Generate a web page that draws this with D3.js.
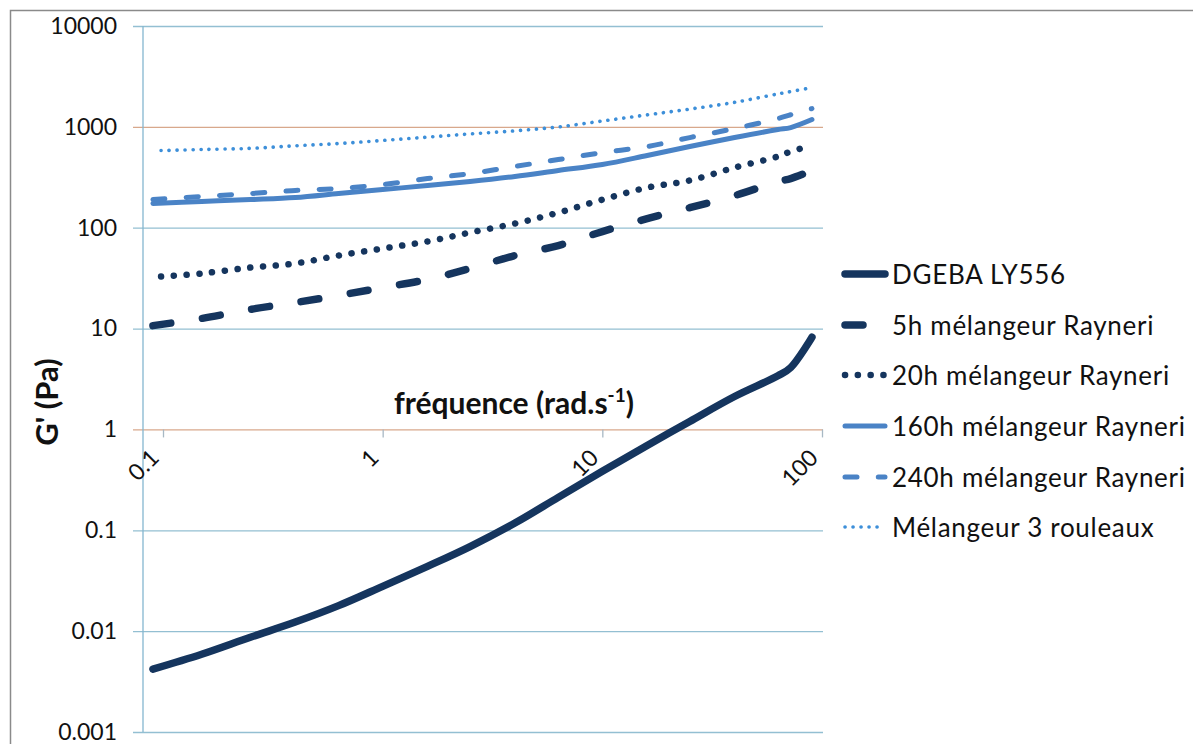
<!DOCTYPE html>
<html>
<head>
<meta charset="utf-8">
<script src="https://cdn.jsdelivr.net/npm/d3@7"></script>
<style>
  html, body { margin: 0; padding: 0; background: #fff; }
  svg { display: block; }
  text { font-family: Lato, "Open Sans", sans-serif; fill: #111; }
</style>
</head>
<body>
<svg id="chart" width="1193" height="744"></svg>
<script>
// ---- data ----
const freqA = [0.09, 0.15, 0.25, 0.4, 0.63, 1, 1.6, 2.5, 4, 6.3, 10, 16, 25, 40, 63, 72, 90];
const freqB = [0.098, 0.15, 0.25, 0.4, 0.63, 1, 1.6, 2.5, 4, 6.3, 10, 16, 25, 40, 63, 72, 90];

const dgeba      = [0.0042, 0.0059, 0.0087, 0.0123, 0.0179, 0.0278, 0.0439, 0.069, 0.118, 0.212, 0.384, 0.694, 1.2, 2.12, 3.4, 4.1, 8.2];
const rayneri5h  = [10.7, 12.6, 15.5, 18.1, 21.3, 25.5, 30.7, 39.4, 53, 66.6, 91.6, 123, 158, 208, 287, 307, 369];
const rayneri20h = [32.8, 35.2, 40.3, 44.2, 53, 62.2, 73, 89.6, 110, 141, 190, 250, 294, 395, 508, 569, 653];
const rayneri160h= [174, 182, 190, 199, 218, 239, 262, 287, 322, 369, 423, 520, 638, 783, 940, 984, 1181];
const rayneri240h= [190, 204, 218, 234, 245, 268, 307, 344, 405, 474, 556, 638, 783, 962, 1208, 1318, 1518];
const rouleaux3  = [582, 596, 612, 649, 683, 733, 791, 851, 913, 998, 1143, 1315, 1500, 1750, 2120, 2236, 2450];

const seriesNames = ["DGEBA LY556", "5h mélangeur Rayneri", "20h mélangeur Rayneri",
                     "160h mélangeur Rayneri", "240h mélangeur Rayneri", "Mélangeur 3 rouleaux"];

const xTicks = [0.1, 1, 10, 100];
const xTickLabels = ["0.1", "1", "10", "100"];
const yTicks = [0.001, 0.01, 0.1, 1, 10, 100, 1000, 10000];
const yTickLabels = ["0.001", "0.01", "0.1", "1", "10", "100", "1000", "10000"];

// ---- styles ----
const navy = "#15355e";
const mid = "#4a83c6";
const light = "#3d8fd9";
const styles = [
  { color: navy,  width: 7.5, dash: null },
  { color: navy,  width: 7.5, dash: "18,32" },
  { color: navy,  width: 6.5, dash: "0.1,12.7" },
  { color: mid,   width: 5,   dash: null },
  { color: mid,   width: 5,   dash: "12,21.3" },
  { color: light, width: 3.6, dash: "0.1,7.9" }
];
const seriesData = [
  { f: freqA, v: dgeba },
  { f: freqA, v: rayneri5h },
  { f: freqB, v: rayneri20h },
  { f: freqA, v: rayneri160h },
  { f: freqA, v: rayneri240h },
  { f: freqB, v: rouleaux3 }
];

const svg = d3.select("#chart");

// outer frame
svg.append("path").attr("d", "M10.5,744 L10.5,10.5 L1193,10.5")
  .attr("fill", "none").attr("stroke", "#8a8a8a").attr("stroke-width", 1.5);

const x = d3.scaleLog().domain([0.1, 100]).range([163, 822]);
const y = d3.scaleLog().domain([0.001, 10000]).range([732, 26]);
const plotLeft = 143, plotRight = 823;

// y axis with gridlines
const yAxis = d3.axisLeft(y).tickValues(yTicks)
  .tickFormat((d, i) => yTickLabels[i])
  .tickSize(-(plotRight - plotLeft + 10)).tickPadding(16);
const gy = svg.append("g").attr("transform", `translate(${plotLeft - 10},0)`).call(yAxis);
gy.select(".domain").remove();
gy.selectAll(".tick line")
  .attr("stroke", d => (d === 1000 || d === 1) ? "#d8a88c" : "#93bfd2")
  .attr("stroke-width", 1.3);
gy.selectAll(".tick text").attr("font-size", 23).attr("font-family", "Lato").attr("fill", "#111");

// vertical axis line
svg.append("line").attr("x1", plotLeft).attr("x2", plotLeft)
  .attr("y1", y(10000)).attr("y2", y(0.001))
  .attr("stroke", "#84b6cf").attr("stroke-width", 1.3);

// x axis at y = 1
const xAxis = d3.axisBottom(x).tickValues(xTicks)
  .tickFormat((d, i) => xTickLabels[i]).tickSize(8);
const gx = svg.append("g").attr("transform", `translate(0,${y(1)})`).call(xAxis);
gx.select(".domain").remove();
gx.selectAll(".tick line").attr("stroke", "#a8b8c4").attr("stroke-width", 1.3);
gx.selectAll(".tick text")
  .attr("font-size", 23).attr("font-family", "Lato").attr("fill", "#111")
  .attr("text-anchor", "end")
  .attr("y", 0).attr("dy", 0)
  .attr("transform", "translate(-3,30) rotate(-45)");

// lines
const line = d3.line().x(d => x(d[0])).y(d => y(d[1])).curve(d3.curveCatmullRom.alpha(0.5));
seriesData.forEach((s, i) => {
  const pts = s.f.map((f, k) => [f, s.v[k]]);
  const st = styles[i];
  svg.append("path").datum(pts)
    .attr("d", line)
    .attr("fill", "none")
    .attr("stroke", st.color)
    .attr("stroke-width", st.width)
    .attr("stroke-linecap", "round")
    .attr("stroke-linejoin", "round")
    .attr("stroke-dasharray", st.dash);
});

// axis titles
svg.append("text")
  .attr("transform", "translate(58,402) rotate(-90)")
  .attr("text-anchor", "middle")
  .attr("font-size", 31).attr("font-weight", "bold")
  .text("G' (Pa)");

const xt = svg.append("text")
  .attr("x", 514).attr("y", 414)
  .attr("text-anchor", "middle")
  .attr("font-size", 30).attr("font-weight", "bold");
xt.append("tspan").text("fréquence (rad.s");
xt.append("tspan").attr("font-size", 19).attr("dy", -12).text("-1");
xt.append("tspan").attr("dy", 12).text(")");

// legend
const legY = [274, 325, 375, 426, 477, 527];
const leg = svg.append("g");
seriesNames.forEach((name, i) => {
  const st = styles[i];
  const g = leg.append("g").attr("transform", `translate(0,${legY[i]})`);
  g.append("line").attr("x1", 845).attr("x2", 885).attr("y1", 0).attr("y2", 0)
    .attr("stroke", st.color).attr("stroke-width", st.width)
    .attr("stroke-linecap", "round")
    .attr("stroke-dasharray", st.dash);
  g.append("text").attr("x", 892).attr("y", 9.5)
    .attr("font-size", 26).attr("letter-spacing", 0.7).text(name);
});
</script>
</body>
</html>
